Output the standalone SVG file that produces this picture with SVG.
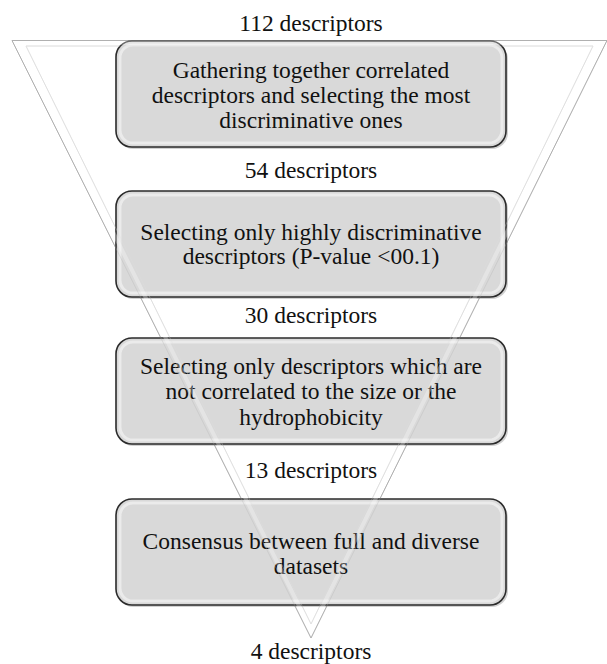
<svg xmlns="http://www.w3.org/2000/svg" width="607" height="664" viewBox="0 0 607 664">
<defs>
<style>
.box{fill:#d9d9d9;stroke:#2b2b2b;stroke-width:1.6}
.bevel{fill:none;stroke:#f2f2f2;stroke-width:3;opacity:0.7}
.shadow{fill:#000;opacity:0.18}
.t{font-family:"Liberation Serif","Times New Roman",serif;font-size:23.5px;fill:#111;text-anchor:middle}
.tri{fill:none;stroke:#b0b0b0;stroke-width:1}
.tri2{fill:none;stroke:#e0e0e0;stroke-width:1}
.triw{fill:none;stroke:#ffffff;stroke-width:4}
</style>
</defs>
<rect width="607" height="664" fill="#fff"/>
<g id="connectors">
<polygon class="triw" points="19,43 600,43 311,630"/>
<polygon class="tri" points="12,40.5 607,40.5 311,638"/>
<polygon class="tri2" points="26,46 593,46 311,624"/>
</g>
<g id="labels">
<text class="t" x="311" y="31">112 descriptors</text>
<text class="t" x="311" y="178">54 descriptors</text>
<text class="t" x="311" y="323">30 descriptors</text>
<text class="t" x="311" y="478">13 descriptors</text>
<text class="t" x="311" y="659">4 descriptors</text>
</g>
<g id="box1">
<rect class="shadow" x="117" y="43" width="391" height="106" rx="16"/>
<rect class="box" x="116" y="41" width="390" height="106" rx="16"/>
<rect class="bevel" x="120" y="45" width="382" height="98" rx="13"/>
<text class="t" x="311" y="78">Gathering together correlated</text>
<text class="t" x="311" y="103">descriptors and selecting the most</text>
<text class="t" x="311" y="128">discriminative ones</text>
</g>
<g id="box2">
<rect class="shadow" x="117" y="193" width="391" height="106" rx="16"/>
<rect class="box" x="116" y="191" width="390" height="106" rx="16"/>
<rect class="bevel" x="120" y="195" width="382" height="98" rx="13"/>
<text class="t" x="311" y="240">Selecting only highly discriminative</text>
<text class="t" x="311" y="264">descriptors (P-value &lt;00.1)</text>
</g>
<g id="box3">
<rect class="shadow" x="117" y="340" width="391" height="106" rx="16"/>
<rect class="box" x="116" y="338" width="390" height="106" rx="16"/>
<rect class="bevel" x="120" y="342" width="382" height="98" rx="13"/>
<text class="t" x="311" y="374">Selecting only descriptors which are</text>
<text class="t" x="311" y="399">not correlated to the size or the</text>
<text class="t" x="311" y="425">hydrophobicity</text>
</g>
<g id="box4">
<rect class="shadow" x="117" y="501" width="391" height="106" rx="16"/>
<rect class="box" x="116" y="499" width="390" height="106" rx="16"/>
<rect class="bevel" x="120" y="503" width="382" height="98" rx="13"/>
<text class="t" x="311" y="549">Consensus between full and diverse</text>
<text class="t" x="311" y="574">datasets</text>
</g>
<g id="overlay" opacity="0.3">
<polygon class="triw" points="19,43 600,43 311,630"/>
<polygon class="tri" points="12,40.5 607,40.5 311,638"/>
<polygon class="tri2" points="26,46 593,46 311,624"/>
</g>
</svg>
